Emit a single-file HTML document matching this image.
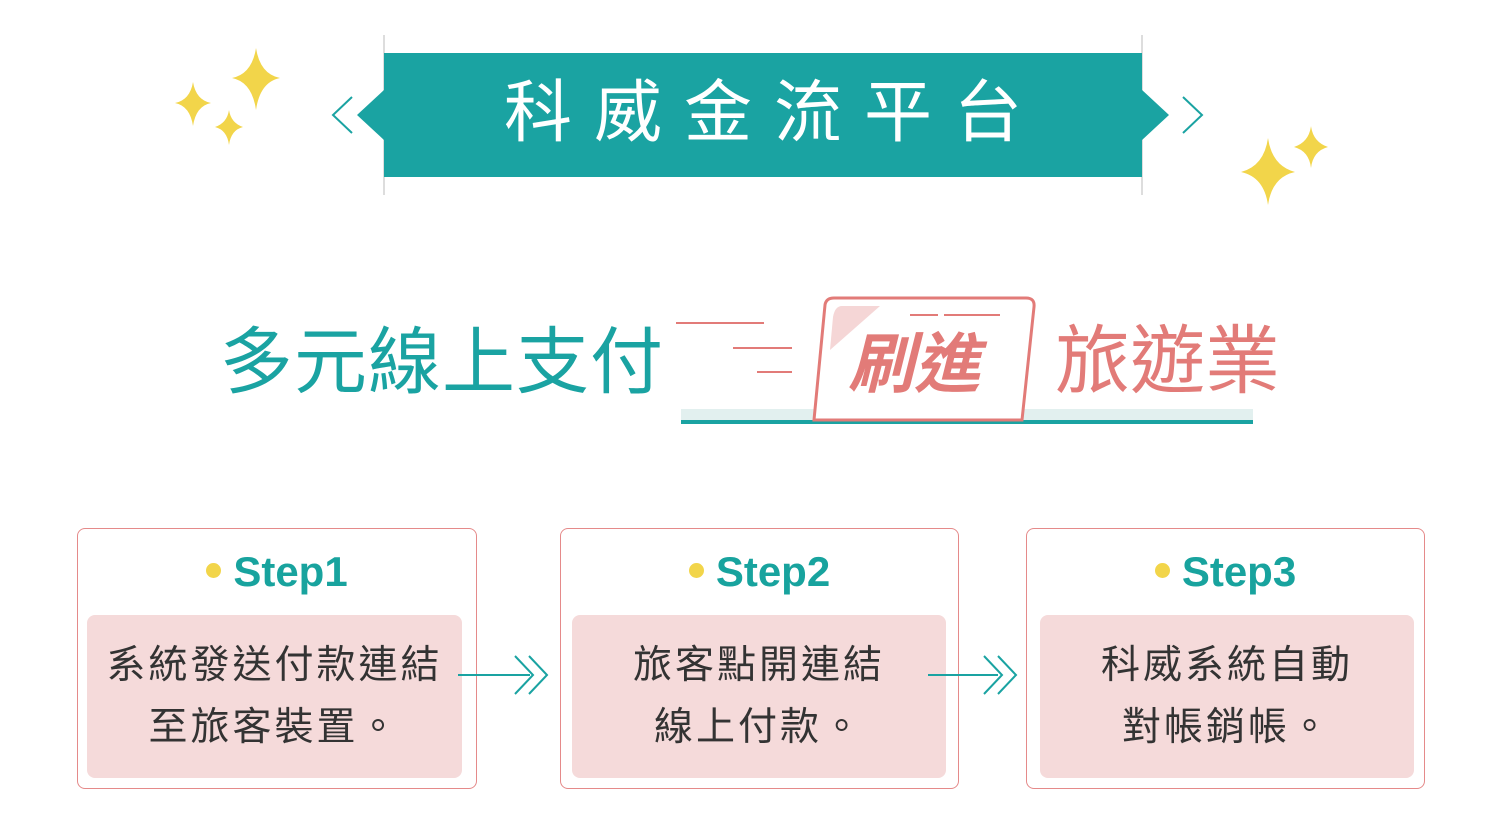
<!DOCTYPE html>
<html><head><meta charset="utf-8"><style>
body{margin:0;width:1500px;height:827px;background:#fff;position:relative;overflow:hidden;font-family:"Liberation Sans","Noto Sans CJK TC",sans-serif}
.a{position:absolute}
.box{position:absolute;top:528px;height:261px;border:1.5px solid #e58a8a;border-radius:8px;background:#fff;box-sizing:border-box}
.inner{position:absolute;top:86px;height:163px;background:#f5dada;border-radius:8px;color:#333;font-size:39px;text-align:center;line-height:62px;padding-top:20px;box-sizing:border-box;letter-spacing:3px}
.step{position:absolute;top:19px;left:0;right:0;text-align:center;font-size:42px;font-weight:bold;color:#18a39e}
.dot{display:inline-block;width:15px;height:15px;border-radius:50%;background:#f2d54a;margin-right:12px;vertical-align:middle;position:relative;top:-4px}
</style></head><body>
<svg class="a" style="left:0;top:0" width="1500" height="827">
<g fill="#f2d54a">
<path d="M256 48 Q260 74 280 78 Q260 82 256 110 Q252 82 232 78 Q252 74 256 48Z"/>
<path d="M193 82 Q196 100 211 103 Q196 106 193 126 Q190 106 175 103 Q190 100 193 82Z"/>
<path d="M229 110 Q231 123 243 127 Q231 130 229 145 Q227 130 215 127 Q227 123 229 110Z"/>
<path d="M1268 138 Q1272 166 1295 172 Q1272 177 1268 205 Q1264 177 1241 172 Q1264 166 1268 138Z"/>
<path d="M1311 126 Q1313 142 1328 147 Q1313 151 1311 168 Q1309 151 1294 147 Q1309 142 1311 126Z"/>
</g>
<line x1="384" y1="35" x2="384" y2="195" stroke="#ddd" stroke-width="2"/>
<line x1="1142" y1="35" x2="1142" y2="195" stroke="#ddd" stroke-width="2"/>
<path d="M357 115 L384 90 L384 53 L1142 53 L1142 90 L1169 115 L1142 140 L1142 177 L384 177 L384 140Z" fill="#1aa3a2"/>
<path d="M352 97 L333 115 L352 133" fill="none" stroke="#1aa3a2" stroke-width="2"/>
<path d="M1183 97 L1202 115 L1183 133" fill="none" stroke="#1aa3a2" stroke-width="2"/>
<rect x="681" y="409" width="572" height="11" fill="#e2f0ef"/>
<rect x="681" y="420" width="572" height="4" fill="#1aa3a2"/>
<g stroke="#e27b78" stroke-width="2">
<line x1="676" y1="323" x2="764" y2="323"/>
<line x1="733" y1="348" x2="792" y2="348"/>
<line x1="757" y1="372" x2="792" y2="372"/>
</g>
<path d="M814 420 L825 305 Q826 298 834 298 L1026 298 Q1035 298 1034 307 L1022 420Z" fill="#fff" stroke="#e27b78" stroke-width="3"/>
<path d="M833 317 Q835 306 842 306 L880 306 L830 350Z" fill="#f5d6d6"/>
<line x1="910" y1="315" x2="938" y2="315" stroke="#e27b78" stroke-width="2"/>
<line x1="944" y1="315" x2="1000" y2="315" stroke="#e27b78" stroke-width="2"/>
</svg>
<div class="a" style="left:384px;top:70px;width:758px;text-align:center;color:#fff;font-size:68px;letter-spacing:22px;text-indent:22px;line-height:86px">科威金流平台</div>
<div class="a" style="left:220px;top:320px;font-size:73px;color:#1aa3a2;line-height:86px;letter-spacing:1px">多元線上支付</div>
<div class="a" style="left:848px;top:324px;font-size:66px;color:#e27b78;font-weight:bold;font-style:italic;line-height:80px">刷進</div>
<div class="a" style="left:1055px;top:318px;font-size:75px;color:#e27b78;line-height:86px">旅遊業</div>
<div class="box" style="left:77px;width:400px"><div class="step"><span class="dot"></span>Step1</div><div class="inner" style="left:9px;right:14px">系統發送付款連結<br>至旅客裝置。</div></div>
<div class="box" style="left:560px;width:399px"><div class="step"><span class="dot"></span>Step2</div><div class="inner" style="left:11px;right:12px">旅客點開連結<br>線上付款。</div></div>
<div class="box" style="left:1026px;width:399px"><div class="step"><span class="dot"></span>Step3</div><div class="inner" style="left:13px;right:10px">科威系統自動<br>對帳銷帳。</div></div>
<svg class="a" style="left:0;top:0" width="1500" height="827">
<g stroke="#1aa3a2" stroke-width="2" fill="none">
<line x1="458" y1="675" x2="530" y2="675"/><path d="M515 656 L533 675 L515 694 M529 656 L547 675 L529 694"/>
<line x1="928" y1="675" x2="998" y2="675"/><path d="M984 656 L1002 675 L984 694 M998 656 L1016 675 L998 694"/>
</g>
</svg>
</body></html>
